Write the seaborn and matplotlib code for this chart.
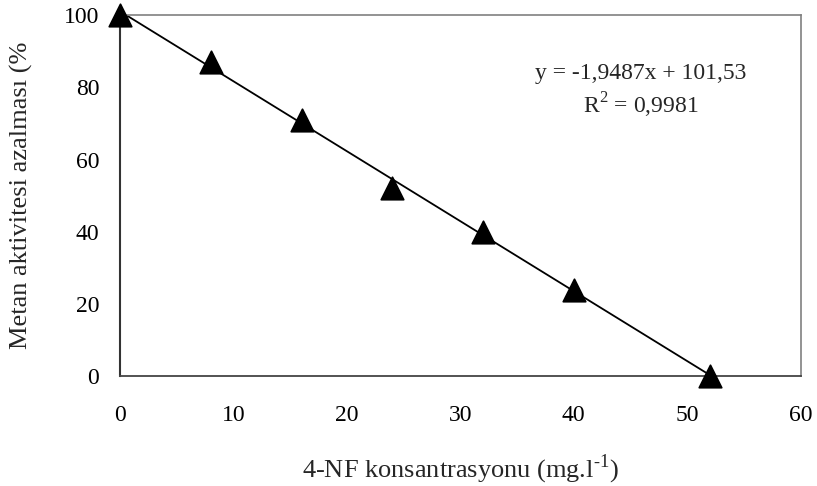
import numpy as np
import pandas as pd
import seaborn as sns
from matplotlib import pyplot as plt

# 4-NF concentration (mg/l) and methane activity reduction (%)
konsantrasyon = [0, 8, 16, 24, 32, 40, 52]
azalma = [100, 87, 71, 52, 40, 24, 0]

x_ticks = [0, 10, 20, 30, 40, 50, 60]
y_ticks = [0, 20, 40, 60, 80, 100]

sns.set_style('white')
plt.rcParams['font.family'] = ['Liberation Serif', 'DejaVu Serif']
plt.rcParams['mathtext.fontset'] = 'custom'
plt.rcParams['mathtext.rm'] = 'Liberation Serif'

df = pd.DataFrame({'x': konsantrasyon, 'y': azalma})

fig = plt.figure(figsize=(8.17, 4.86), dpi=100)
ax = fig.add_axes([0.147, 0.226, 0.833, 0.743])

# linear trendline
slope, intercept = np.polyfit(df['x'], df['y'], 1)
xl = np.array([df['x'].min(), df['x'].max()])
sns.lineplot(x=xl, y=slope * xl + intercept, ax=ax, color='black', lw=1.3)

sns.scatterplot(data=df, x='x', y='y', ax=ax, marker='^', s=260,
                color='black', edgecolor='black', zorder=3, clip_on=False)

ax.set_xlim(0, 60)
ax.set_ylim(0, 100)
ax.set_xticks(x_ticks)
ax.set_yticks(y_ticks)
ax.tick_params(axis='both', labelsize=17, direction='out', length=7, width=1.2)
ax.tick_params(axis='x', colors='#666666', labelcolor='black', pad=14)
ax.tick_params(axis='y', colors='#333333', labelcolor='black', pad=8)

for side in ['top', 'right']:
    ax.spines[side].set_color('#808080')
    ax.spines[side].set_linewidth(1.2)
ax.spines['left'].set_color('#333333')
ax.spines['left'].set_linewidth(1.5)
ax.spines['bottom'].set_color('#444444')
ax.spines['bottom'].set_linewidth(1.3)

ax.set_xlabel(r'4-NF konsantrasyonu (mg.l$^{\text{-}1}$)', fontsize=19)
ax.xaxis.set_label_coords(0.5, -0.212)
ax.set_ylabel('Metan aktivitesi azalması (%', fontsize=19)
ax.yaxis.set_label_coords(-0.128, 0.5)

ax.text(0.765, 0.839, 'y = -1,9487x + 101,53', transform=ax.transAxes,
        ha='center', va='center', fontsize=17)
ax.text(0.765, 0.751, 'R$^2$ = 0,9981', transform=ax.transAxes,
        ha='center', va='center', fontsize=17)

plt.savefig('out.png', dpi=100)
